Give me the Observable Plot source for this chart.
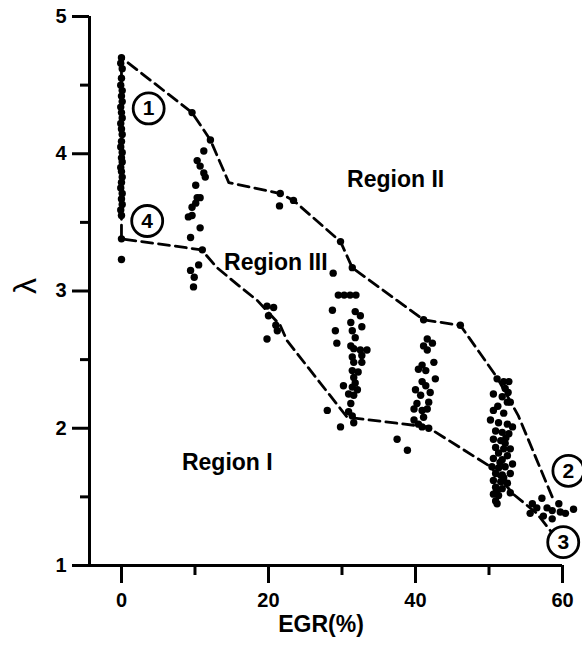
<!DOCTYPE html>
<html>
<head>
<meta charset="utf-8">
<script src="https://cdn.jsdelivr.net/npm/d3@7"></script>
<script src="https://cdn.jsdelivr.net/npm/@observablehq/plot@0.6"></script>
<style>
  html, body { margin: 0; padding: 0; background: #fff; }
</style>
</head>
<body>
<div id="chart"></div>
<script>
// ---- data ----
const egr0 = [0.0,-0.1,0.1,0,-0.1,0.1,0,0.1,-0.1,0,0.1,-0.1,0,0.1,0,-0.1,0.1,0,0.1,-0.1,0,0.1,0,-0.1,0.1,0,0.1,-0.1,0,0,0];
const lam0 = [4.70,4.66,4.62,4.55,4.50,4.46,4.42,4.38,4.34,4.30,4.26,4.22,4.18,4.14,4.09,4.05,4.01,3.97,3.94,3.90,3.87,3.83,3.79,3.75,3.71,3.67,3.63,3.59,3.55,3.38,3.23];

const egr10 = [9.6,12.1,11.2,10.3,10.7,11.2,11.4,10.1,10.3,10.7,10.1,9.6,9.1,9.6,10.7,9.4,11.0,10.5,9.4,9.9,9.8];
const lam10 = [4.30,4.10,4.02,3.95,3.91,3.86,3.83,3.77,3.68,3.68,3.64,3.61,3.54,3.55,3.46,3.39,3.30,3.19,3.15,3.10,3.03];

const egr20 = [21.6,21.5,23.4,19.8,20.7,20.0,21.0,21.2,19.8];
const lam20 = [3.71,3.62,3.66,2.89,2.88,2.82,2.75,2.71,2.65];

const egr30 = [29.8,28.8,31.4,29.5,30.3,31.1,31.9,28.7,31.8,32.5,31.2,32.7,29.1,31.4,31.8,29.3,31.2,31.6,32.5,33.4,31.4,32.7,31.6,32.7,31.4,32.2,31.6,31.8,30.2,31.4,32.1,30.9,31.6,31.2,28.0,30.9,31.4,31.6,29.8];
const lam30 = [3.36,3.13,3.17,2.97,2.97,2.97,2.97,2.86,2.85,2.82,2.77,2.74,2.71,2.71,2.66,2.62,2.60,2.58,2.57,2.57,2.52,2.53,2.48,2.48,2.42,2.41,2.37,2.33,2.31,2.30,2.28,2.25,2.24,2.18,2.13,2.12,2.09,2.04,2.01];

const egr40 = [41.1,46.1,41.6,42.3,41.1,41.6,42.5,40.9,41.4,40.4,42.7,40.9,41.4,40.0,42.0,40.7,41.8,40.2,39.8,40.9,41.6,41.1,39.8,40.4,40.9,41.8,37.5,38.9];
const lam40 = [2.79,2.75,2.65,2.62,2.60,2.57,2.48,2.46,2.42,2.43,2.36,2.34,2.31,2.28,2.26,2.24,2.19,2.18,2.14,2.13,2.14,2.08,2.06,2.03,2.01,2.00,1.92,1.84];

const egr50 = [51.1,52.0,52.7,52.2,50.6,51.8,52.5,52.9,50.6,52.0,50.2,51.3,52.5,53.2,50.9,51.8,52.7,50.6,51.6,52.2,50.9,52.0,52.9,51.3,52.5,50.6,51.8,53.2,50.4,51.3,52.2,50.9,51.8,52.9,50.6,51.6,52.5,50.9,51.8,50.6,51.3,52.9,50.9,51.1,52.6,51.2,52.3,51.5,52.0,51.0];
const lam50 = [2.36,2.34,2.34,2.29,2.25,2.23,2.19,2.19,2.13,2.11,2.06,2.04,2.03,2.01,1.98,1.97,1.96,1.92,1.91,1.89,1.86,1.85,1.85,1.82,1.80,1.78,1.77,1.74,1.72,1.71,1.72,1.67,1.66,1.67,1.62,1.61,1.60,1.57,1.56,1.52,1.51,1.53,1.47,1.45,2.26,2.16,1.93,1.75,1.64,1.54];

const egr60 = [55.9,56.5,57.2,57.9,55.6,58.6,59.5,59.7,60.4,61.5,57.4,58.6];
const lam60 = [1.45,1.42,1.49,1.42,1.38,1.40,1.45,1.39,1.38,1.41,1.36,1.34];

// dashed region boundary (upper edge reversed, left edge, lower edge)
const boundaryEGR = [58.6,54.0,51.1,46.1,41.1,31.4,29.8,23.4,21.6,14.6,12.1,9.6,0,0,10.9,13.0,15.7,18.5,21.6,22.5,30.7,41.6,50.2,53.3,56.5,58.4];
const boundaryLam = [1.50,2.09,2.37,2.75,2.79,3.17,3.36,3.66,3.71,3.79,4.10,4.30,4.70,3.38,3.30,3.17,3.05,2.93,2.75,2.64,2.08,2.01,1.72,1.52,1.38,1.25];

const regionNames = ["Region II","Region III","Region I"];
const regionEGR = [37.3,21.0,14.4];
const regionLam = [3.81,3.21,1.75];

const markerNames = ["1","4","2","3"];
const markerEGR = [3.7,3.5,60.8,60.1];
const markerLam = [4.33,3.51,1.69,1.17];

const yMajor = [1,2,3,4,5];
const yMinor = [1.5,2.5,3.5,4.5];
const xMajor = [0,20,40,60];
const xMinor = [10,30,50];

const xLabel = "EGR(%)";
const yLabel = "λ";

// ---- layout ----
const W = 582, H = 648, mL = 89, mR = 20, mT = 16, mB = 83;
const xDom = [-4.35, 60], yDom = [1, 5];
const xPerPx = (xDom[1] - xDom[0]) / (W - mL - mR);
const yPerPx = (yDom[1] - yDom[0]) / (H - mT - mB);

// ---- build tables ----
const pts = [];
[[egr0,lam0],[egr10,lam10],[egr20,lam20],[egr30,lam30],[egr40,lam40],[egr50,lam50],[egr60,lam60]]
  .forEach(([xs,ys]) => xs.forEach((x,i) => pts.push({x, y: ys[i]})));
const boundary = boundaryEGR.map((x,i) => ({x, y: boundaryLam[i]}));
const regions = regionNames.map((t,i) => ({t, x: regionEGR[i], y: regionLam[i]}));
const markers = markerNames.map((t,i) => ({t, x: markerEGR[i], y: markerLam[i]}));

const font = "'Liberation Sans', Arial, sans-serif";
const fmt = d => String(d);

const chart = Plot.plot({
  width: W,
  height: H,
  marginLeft: mL,
  marginRight: mR,
  marginTop: mT,
  marginBottom: mB,
  x: {type: "linear", domain: xDom, axis: null},
  y: {type: "linear", domain: yDom, axis: null},
  style: {fontFamily: font, fontWeight: "bold", fontSize: "20px", background: "white", color: "black"},
  marks: [
    // data
    Plot.line(boundary, {x: "x", y: "y", stroke: "black", strokeWidth: 2.8, strokeDasharray: "11,6", curve: "linear"}),
    Plot.dot(pts, {x: "x", y: "y", r: 3.7, fill: "black", stroke: "none"}),
    Plot.text(regions, {x: "x", y: "y", text: "t", fontSize: 23, fontWeight: "bold", fill: "black"}),
    Plot.dot(markers, {x: "x", y: "y", r: 15.5, fill: "white", stroke: "black", strokeWidth: 2.8}),
    Plot.text(markers, {x: "x", y: "y", text: "t", fontSize: 21, fontWeight: "bold", fill: "black"}),
    // axis lines
    Plot.ruleX([xDom[0]], {strokeWidth: 3, stroke: "black"}),
    Plot.ruleY([yDom[0]], {strokeWidth: 3, stroke: "black"}),
    // y ticks and labels
    Plot.ruleY(yMajor, {y: d => d, x1: xDom[0] - 17 * xPerPx, x2: xDom[0], strokeWidth: 3, stroke: "black"}),
    Plot.ruleY(yMinor, {y: d => d, x1: xDom[0] - 9 * xPerPx, x2: xDom[0], strokeWidth: 3, stroke: "black"}),
    Plot.text(yMajor, {y: d => d, text: fmt, frameAnchor: "left", dx: -23, textAnchor: "end", fontSize: 20, fontWeight: "bold", fill: "black"}),
    // x ticks and labels
    Plot.ruleX(xMajor, {x: d => d, y1: yDom[0], y2: yDom[0] - 18 * yPerPx, strokeWidth: 3, stroke: "black"}),
    Plot.ruleX(xMinor, {x: d => d, y1: yDom[0], y2: yDom[0] - 10 * yPerPx, strokeWidth: 3, stroke: "black"}),
    Plot.text(xMajor, {x: d => d, text: fmt, frameAnchor: "bottom", dy: 41, fontSize: 20, fontWeight: "bold", fill: "black"}),
    // axis titles
    Plot.text([{t: xLabel}], {text: "t", frameAnchor: "bottom", dy: 66, dx: -5, fontSize: 23, fontWeight: "bold", fill: "black"}),
    Plot.text([{t: yLabel}], {text: "t", frameAnchor: "left", dx: -64, dy: 3, rotate: -90, fontSize: 32, fontWeight: "normal", fill: "black"})
  ]
});
document.getElementById("chart").appendChild(chart);
</script>
</body>
</html>
